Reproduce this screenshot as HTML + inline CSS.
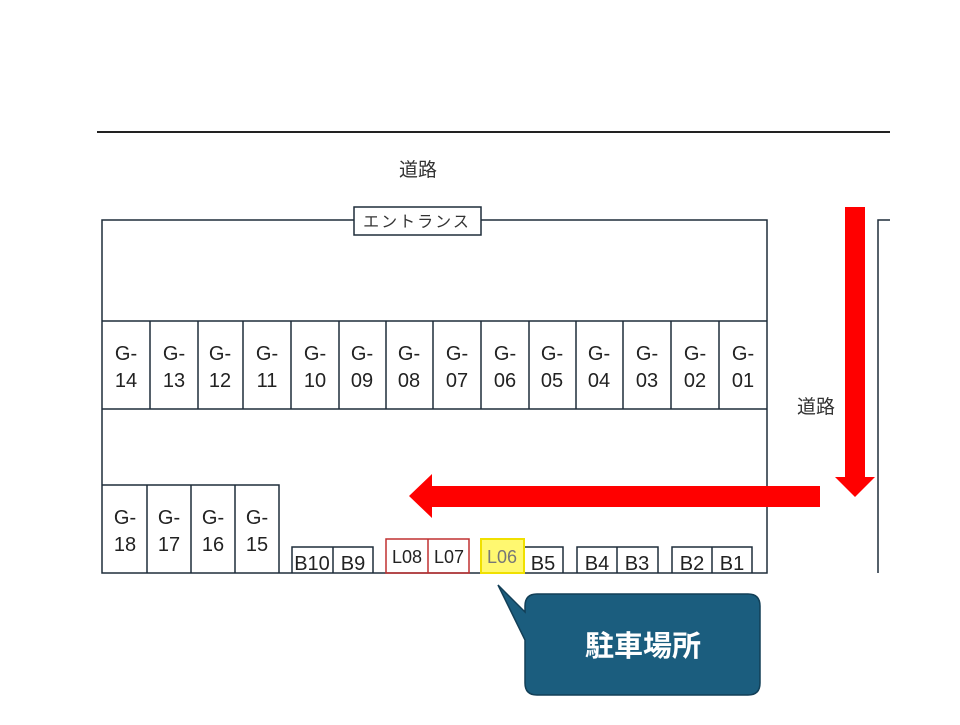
<!DOCTYPE html><html><head><meta charset="utf-8"><style>body{margin:0;background:#fff}</style></head><body>
<svg width="960" height="720" xmlns="http://www.w3.org/2000/svg" font-family="Liberation Sans, Noto Sans CJK JP, sans-serif">
<line x1="97" y1="132" x2="890" y2="132" stroke="#222" stroke-width="2"/>
<text x="418" y="176" font-size="19" text-anchor="middle" fill="#333">道路</text>
<g fill="none" stroke="#1f2d3a" stroke-width="1.5">
<rect x="102" y="220" width="665" height="353"/>
<line x1="102" y1="321" x2="767" y2="321"/><line x1="102" y1="409" x2="767" y2="409"/>
<path d="M150 321V409M198 321V409M243 321V409M291 321V409M339 321V409M386 321V409M433 321V409M481 321V409M529 321V409M576 321V409M623 321V409M671 321V409M719 321V409"/>
<path d="M102 485H279V573M147 485V573M191 485V573M235 485V573"/>
<path d="M292 573V547H373V573M333 547V573"/>
<path d="M524 573V547H563V573"/>
<path d="M577 573V547H658V573M617 547V573"/>
<path d="M672 573V547H752V573M712 547V573"/>
<path d="M878 573V220H890"/>
</g>
<rect x="354" y="207" width="127" height="28" fill="#fff" stroke="#1f2d3a" stroke-width="1.5"/>
<text x="417" y="227" font-size="16" text-anchor="middle" fill="#333" letter-spacing="2">エントランス</text>
<rect x="386" y="539" width="83" height="34" fill="none" stroke="#c03030" stroke-width="1.5"/>
<line x1="428" y1="539" x2="428" y2="573" stroke="#c03030" stroke-width="1.5"/>
<rect x="481" y="539" width="43" height="34" fill="#fff870" stroke="#f0e000" stroke-width="2"/>
<g font-size="20" fill="#222" text-anchor="middle">
<text x="126" y="360">G-</text><text x="126" y="387">14</text>
<text x="174" y="360">G-</text><text x="174" y="387">13</text>
<text x="220" y="360">G-</text><text x="220" y="387">12</text>
<text x="267" y="360">G-</text><text x="267" y="387">11</text>
<text x="315" y="360">G-</text><text x="315" y="387">10</text>
<text x="362" y="360">G-</text><text x="362" y="387">09</text>
<text x="409" y="360">G-</text><text x="409" y="387">08</text>
<text x="457" y="360">G-</text><text x="457" y="387">07</text>
<text x="505" y="360">G-</text><text x="505" y="387">06</text>
<text x="552" y="360">G-</text><text x="552" y="387">05</text>
<text x="599" y="360">G-</text><text x="599" y="387">04</text>
<text x="647" y="360">G-</text><text x="647" y="387">03</text>
<text x="695" y="360">G-</text><text x="695" y="387">02</text>
<text x="743" y="360">G-</text><text x="743" y="387">01</text>
<text x="125" y="524">G-</text><text x="125" y="551">18</text>
<text x="169" y="524">G-</text><text x="169" y="551">17</text>
<text x="213" y="524">G-</text><text x="213" y="551">16</text>
<text x="257" y="524">G-</text><text x="257" y="551">15</text>
<text x="312" y="570">B10</text><text x="353" y="570">B9</text>
<text x="543" y="570">B5</text><text x="597" y="570">B4</text><text x="637" y="570">B3</text>
<text x="692" y="570">B2</text><text x="732" y="570">B1</text>
</g>
<g font-size="18" text-anchor="middle">
<text x="407" y="563" fill="#222">L08</text><text x="449" y="563" fill="#222">L07</text>
<text x="502" y="563" fill="#777">L06</text>
</g>
<text x="816" y="413" font-size="19" text-anchor="middle" fill="#333">道路</text>
<polygon points="845,207 865,207 865,477 875,477 855,497 835,477 845,477" fill="#f00"/>
<polygon points="820,486 432,486 432,474 409,496 432,518 432,507 820,507" fill="#f00"/>
<path d="M537 594H748Q760 594 760 606V683Q760 695 748 695H537Q525 695 525 683V640L498 585L525 612V606Q525 594 537 594Z" fill="#1b5d7e" stroke="#123f57" stroke-width="1.5"/>
<text x="643" y="656" font-size="29" font-weight="bold" text-anchor="middle" fill="#fff">駐車場所</text>
</svg>
</body></html>
